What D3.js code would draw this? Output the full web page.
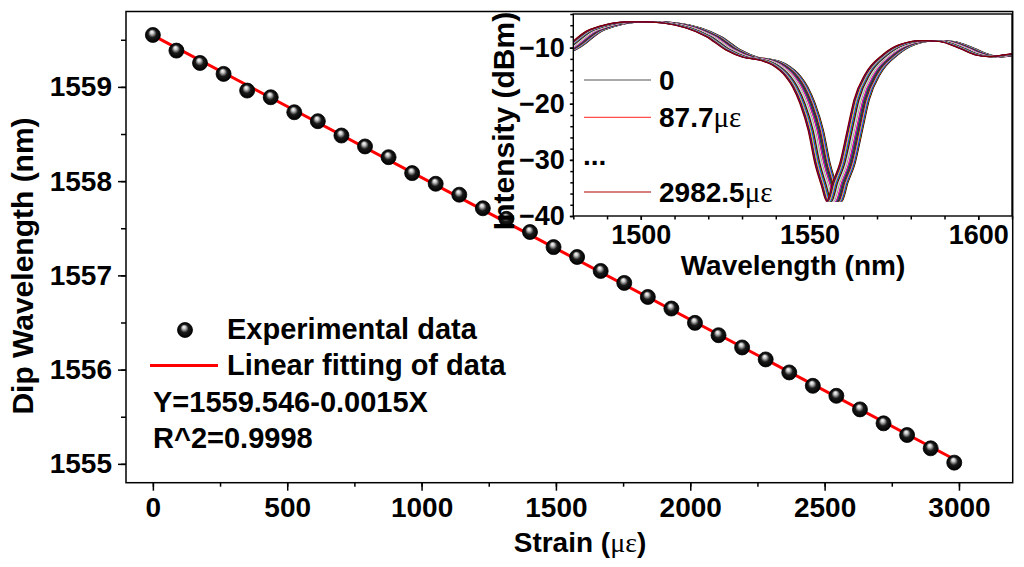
<!DOCTYPE html>
<html>
<head>
<meta charset="utf-8">
<script src="https://cdn.jsdelivr.net/npm/d3@7"></script>
<style>
  body { margin: 0; background: #fff; }
  svg text { font-family: "Liberation Sans", Arial, sans-serif; font-weight: bold; fill: #000; }
  .gr { font-family: "Liberation Serif", "Times New Roman", serif; font-weight: normal; }
</style>
</head>
<body>
<div id="chart"></div>
<script>
// strain (micro-strain) and measured dip wavelength (nm)
const strain = [0, 87.7, 175.4, 263.2, 350.9, 438.6, 526.3, 614.0, 701.8, 789.5,
  877.2, 964.9, 1052.6, 1140.4, 1228.1, 1315.8, 1403.5, 1491.2, 1578.9, 1666.6,
  1754.4, 1842.1, 1929.8, 2017.5, 2105.2, 2193.0, 2280.7, 2368.4, 2456.1, 2543.8,
  2631.6, 2719.3, 2807.0, 2894.7, 2982.5];
const dipWavelength = [1559.551, 1559.385, 1559.254, 1559.138, 1558.961, 1558.890,
  1558.731, 1558.636, 1558.484, 1558.368, 1558.254, 1558.085, 1557.972, 1557.856,
  1557.712, 1557.600, 1557.460, 1557.300, 1557.195, 1557.047, 1556.920, 1556.771,
  1556.648, 1556.496, 1556.365, 1556.235, 1556.108, 1555.970, 1555.828, 1555.722,
  1555.578, 1555.430, 1555.306, 1555.165, 1555.013];

const xTicks = [0, 500, 1000, 1500, 2000, 2500, 3000];
const yTicks = [1555, 1556, 1557, 1558, 1559];

// transmission spectrum at 0 strain (inset), wavelength nm / dBm
const specWl = [1475, 1480, 1482.4, 1488.3, 1494.2, 1500.2, 1505.1, 1511.0, 1517.9,
  1523.8, 1529.7, 1534.7, 1539.6, 1543.5, 1547.5, 1549.5, 1551.7, 1554.1, 1556.1,
  1558.0, 1559.6, 1561.4, 1563.5, 1565.7, 1567.7, 1571.1, 1576.1, 1581.0, 1587.9,
  1592.9, 1598.8, 1603.7, 1607.6, 1612.1, 1616];
const specDb = [-11.5, -10.6, -9.8, -7.1, -5.9, -5.4, -5.4, -5.6, -6.5,
  -8.0, -10.4, -11.7, -12.2, -13.1, -15.2, -17.0, -20.0, -24.7, -30.6,
  -34.5, -37.4, -34.0, -30.6, -24.7, -19.3, -14.6, -11.3, -9.5, -8.75,
  -8.9, -10.1, -11.3, -11.6, -11.3, -11.0];

const insetXTicks = [1500, 1550, 1600];
const insetYTicks = [-10, -20, -30, -40];
const curveColors = ["#000000", "#FF0000", "#00FF00", "#0000FF", "#00FFFF", "#FF00FF",
  "#FFFF00", "#808000", "#000080", "#800080", "#800000", "#008000", "#008080",
  "#0000A0", "#FF8000", "#8000FF", "#FF0080", "#FFFFFF", "#C0C0C0", "#808080",
  "#FFFF80", "#80FFFF", "#FF80FF", "#404040"];

const svg = d3.select("#chart").append("svg")
  .attr("width", 1024).attr("height", 567);

// sphere gradient for markers
const grad = svg.append("defs").append("radialGradient")
  .attr("id", "ball").attr("cx", "50%").attr("cy", "50%").attr("r", "50%")
  .attr("fx", "42%").attr("fy", "28%");
grad.append("stop").attr("offset", "0%").attr("stop-color", "#ffffff");
grad.append("stop").attr("offset", "22%").attr("stop-color", "#c8c8c8");
grad.append("stop").attr("offset", "55%").attr("stop-color", "#1a1a1a");
grad.append("stop").attr("offset", "100%").attr("stop-color", "#000");

// ---------- main plot ----------
const x = d3.scaleLinear().domain([-100, 3200]).range([126, 1012.7]);
const y = d3.scaleLinear().domain([1554.8, 1559.8]).range([482.7, 11.5]);

function styleAxis(g, size) {
  g.select(".domain").remove();
  g.selectAll(".tick line").attr("stroke", "#000").attr("stroke-width", 1.5);
  g.selectAll(".tick text").attr("font-size", size);
}

svg.append("g").attr("transform", "translate(0,482.7)")
  .call(d3.axisBottom(x).tickValues(d3.range(0, 3001, 250)).tickSize(4).tickFormat(""))
  .call(g => styleAxis(g, 28));
svg.append("g").attr("transform", "translate(0,482.7)")
  .call(d3.axisBottom(x).tickValues(xTicks).tickSize(8).tickPadding(6).tickFormat(d3.format("d")))
  .call(g => styleAxis(g, 28))
  .call(g => g.selectAll(".tick text").attr("dy", "0.71em"));
svg.append("g").attr("transform", "translate(126,0)")
  .call(d3.axisLeft(y).tickValues(d3.range(1555, 1559.6, 0.5)).tickSize(5).tickFormat(""))
  .call(g => styleAxis(g, 28));
svg.append("g").attr("transform", "translate(126,0)")
  .call(d3.axisLeft(y).tickValues(yTicks).tickSize(8).tickPadding(6).tickFormat(d3.format("d")))
  .call(g => styleAxis(g, 28));

svg.append("rect").attr("x", 126).attr("y", 11.5)
  .attr("width", 1012.7 - 126).attr("height", 482.7 - 11.5)
  .attr("fill", "none").attr("stroke", "#000").attr("stroke-width", 1.5);

// linear fit
const fit = d3.zip(strain, dipWavelength);
const mx = d3.mean(strain), my = d3.mean(dipWavelength);
const slope = d3.sum(fit, d => (d[0] - mx) * (d[1] - my)) / d3.sum(fit, d => (d[0] - mx) ** 2);
const icpt = my - slope * mx;
const xr = d3.extent(strain);
svg.append("line")
  .attr("x1", x(xr[0])).attr("y1", y(icpt + slope * xr[0]))
  .attr("x2", x(xr[1])).attr("y2", y(icpt + slope * xr[1]))
  .attr("stroke", "#ff0000").attr("stroke-width", 3);

svg.selectAll(".pt").data(fit).enter().append("circle")
  .attr("class", "pt")
  .attr("cx", d => x(d[0])).attr("cy", d => y(d[1])).attr("r", 7.5)
  .attr("fill", "url(#ball)").attr("stroke", "#000").attr("stroke-width", 0.8);

// main legend
svg.append("circle").attr("cx", 185).attr("cy", 330).attr("r", 7.5)
  .attr("fill", "url(#ball)").attr("stroke", "#000").attr("stroke-width", 0.8);
svg.append("text").attr("x", 227).attr("y", 339).attr("font-size", 29).text("Experimental data");
svg.append("line").attr("x1", 150).attr("x2", 218).attr("y1", 365.5).attr("y2", 365.5)
  .attr("stroke", "#ff0000").attr("stroke-width", 3);
svg.append("text").attr("x", 227).attr("y", 375).attr("font-size", 29).text("Linear fitting of data");
svg.append("text").attr("x", 153).attr("y", 411.5).attr("font-size", 29).text("Y=1559.546-0.0015X");
svg.append("text").attr("x", 153).attr("y", 448).attr("font-size", 29).text("R^2=0.9998");

// axis titles
const xt = svg.append("text").attr("x", 580).attr("y", 552).attr("text-anchor", "middle")
  .attr("font-size", 28);
xt.append("tspan").text("Strain (");
xt.append("tspan").attr("class", "gr").text("με");
xt.append("tspan").text(")");
svg.append("text").attr("transform", "translate(33,266) rotate(-90)")
  .attr("text-anchor", "middle").attr("font-size", 30).text("Dip Wavelength (nm)");

// ---------- inset ----------
const ix = d3.scaleLinear().domain([1480, 1610]).range([573.3, 1012]);
const iy = d3.scaleLinear().domain([-40, -4]).range([216, 14]);

svg.append("rect").attr("x", 573.3).attr("y", 14).attr("width", 1012 - 573.3).attr("height", 202)
  .attr("fill", "#fff");
svg.append("clipPath").attr("id", "iclip").append("rect")
  .attr("x", 573.3).attr("y", 14).attr("width", 1012 - 573.3).attr("height", 202);

const spec = d3.zip(specWl, specDb);
const line = d3.line().x(d => ix(d[0])).y(d => iy(d[1])).curve(d3.curveMonotoneX);
const cg = svg.append("g").attr("clip-path", "url(#iclip)");
dipWavelength.forEach((w, i) => {
  const shift = w - dipWavelength[0];
  cg.append("path")
    .attr("d", line(spec.map(p => [p[0] + shift, p[1]])))
    .attr("fill", "none").attr("stroke", curveColors[i % curveColors.length])
    .attr("stroke-width", 1.2);
});

svg.append("g").attr("transform", "translate(0,216)")
  .call(d3.axisBottom(ix).tickValues(d3.range(1480, 1611, 10)).tickSize(3.5).tickFormat(""))
  .call(g => styleAxis(g, 27));
svg.append("g").attr("transform", "translate(0,216)")
  .call(d3.axisBottom(ix).tickValues(insetXTicks).tickSize(4).tickPadding(5).tickFormat(d3.format("d")))
  .call(g => styleAxis(g, 27))
  .call(g => g.selectAll(".tick text").attr("dy", "0.71em"));
svg.append("g").attr("transform", "translate(573.3,0)")
  .call(d3.axisLeft(iy).tickValues(d3.range(-40, -3, 2)).tickSize(3).tickFormat(""))
  .call(g => styleAxis(g, 27));
svg.append("g").attr("transform", "translate(573.3,0)")
  .call(d3.axisLeft(iy).tickValues(insetYTicks).tickSize(3.5).tickPadding(5).tickFormat(d3.format("d")))
  .call(g => styleAxis(g, 27));

svg.append("rect").attr("x", 573.3).attr("y", 14).attr("width", 1012 - 573.3).attr("height", 202)
  .attr("fill", "none").attr("stroke", "#000").attr("stroke-width", 1.4);

svg.append("text").attr("x", 793).attr("y", 275).attr("text-anchor", "middle")
  .attr("font-size", 28).text("Wavelength (nm)");
svg.append("text").attr("transform", "translate(514,121) rotate(-90)")
  .attr("text-anchor", "middle").attr("font-size", 30).text("Intensity (dBm)");

// inset legend
const insetLegend = [
  { label: "0", unit: "", color: "#555555", y: 80 },
  { label: "87.7", unit: "με", color: "#ff4d4d", y: 117.3 },
  { label: "2982.5", unit: "με", color: "#b00000", y: 192 }
];
insetLegend.forEach(d => {
  svg.append("line").attr("x1", 584).attr("x2", 651).attr("y1", d.y).attr("y2", d.y)
    .attr("stroke", d.color).attr("stroke-width", 1.2);
  const t = svg.append("text").attr("x", 659).attr("y", d.y + 10).attr("font-size", 28);
  t.append("tspan").text(d.label);
  if (d.unit) t.append("tspan").attr("class", "gr").attr("font-size", 29).text(d.unit);
});
svg.append("text").attr("x", 583).attr("y", 165).attr("font-size", 28).text("...");
</script>
</body>
</html>
